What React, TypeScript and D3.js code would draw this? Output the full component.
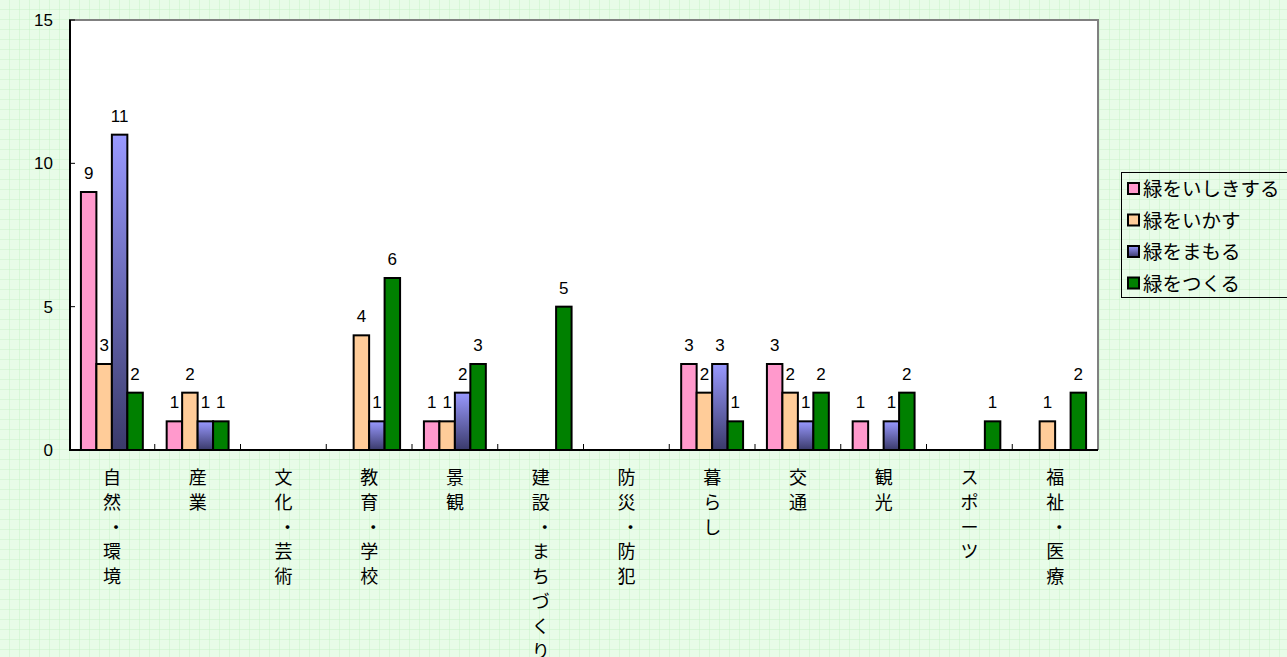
import React from 'react';
import * as d3 from 'd3';

const categories = [
  '自然・環境', '産業', '文化・芸術', '教育・学校', '景観', '建設・まちづくり',
  '防災・防犯', '暮らし', '交通', '観光', 'スポーツ', '福祉・医療'
];
const seriesNames = ['緑をいしきする', '緑をいかす', '緑をまもる', '緑をつくる'];
// 0 = no bar drawn
const ishiki = [9, 1, 0, 0, 1, 0, 0, 3, 3, 1, 0, 0];
const ikasu = [3, 2, 0, 4, 1, 0, 0, 2, 2, 0, 0, 1];
const mamoru = [11, 1, 0, 1, 2, 0, 0, 3, 1, 1, 0, 0];
const tsukuru = [2, 1, 0, 6, 3, 5, 0, 1, 2, 2, 1, 2];
const yTicks = [0, 5, 10, 15];

const seriesValues = [ishiki, ikasu, mamoru, tsukuru];
const fills = ['#ff99cc', '#ffcc99', 'url(#blueGrad)', '#008000'];

const W = 1287;
const H = 657;
const margin = { left: 69, right: 189, top: 20, bottom: 207 };
const FONT = '"Noto Sans CJK JP", "Noto Sans", sans-serif';
const NUM_FONT = '"Liberation Sans", Arial, sans-serif';

export default function App() {
  const x0 = d3.scaleBand().domain(categories).range([margin.left, W - margin.right]);
  const x1 = d3.scaleBand().domain(seriesNames).range([0, x0.bandwidth()]).paddingOuter(0.77);
  const y = d3.scaleLinear().domain([0, 15]).range([H - margin.bottom, margin.top]);
  const bottom = y(0);
  const right = W - margin.right;

  return (
    <svg width={W} height={H} style={{ position: 'absolute', left: 0, top: 0 }} fontFamily={FONT}>
      <defs>
        <pattern id="grid" width={10} height={10} patternUnits="userSpaceOnUse">
          <rect width={10} height={10} fill="#e8fce8" />
          <path d="M10 0 V10 M0 10 H10" stroke="#c8f2c8" strokeWidth={1} fill="none" />
        </pattern>
        <linearGradient id="blueGrad" x1="0" y1="0" x2="0" y2="1">
          <stop offset="0" stopColor="#9999ff" />
          <stop offset="1" stopColor="#3a3a6a" />
        </linearGradient>
      </defs>
      <rect width={W} height={H} fill="url(#grid)" />

      {/* plot area */}
      <rect x={margin.left} y={margin.top} width={right - margin.left} height={bottom - margin.top} fill="#fff" />
      <path d={`M${margin.left},${margin.top} H${right} V${bottom}`} stroke="#808080" strokeWidth={2} fill="none" />

      {/* bars */}
      {seriesValues.map((vals, si) => (
        <g key={si}>
          {categories.map((c, ci) => {
            const v = vals[ci];
            if (!v) return null;
            const bx = x0(c)! + x1(seriesNames[si])!;
            return (
              <g key={c}>
                <rect x={bx} y={y(v)} width={x1.bandwidth()} height={bottom - y(v)}
                  fill={fills[si]} stroke="#000" strokeWidth={2} />
                <text x={bx + x1.bandwidth() / 2} y={y(v) - 13} textAnchor="middle" fontSize={17}
                  fontFamily={NUM_FONT} fill="#000">{v}</text>
              </g>
            );
          })}
        </g>
      ))}

      {/* axes */}
      <line x1={margin.left + 1} x2={margin.left + 1} y1={margin.top} y2={bottom} stroke="#000" strokeWidth={2} />
      <line x1={margin.left} x2={right} y1={bottom} y2={bottom} stroke="#000" strokeWidth={2} />
      {yTicks.map(t => (
        <g key={t}>
          <line x1={margin.left} x2={margin.left + 6} y1={y(t)} y2={y(t)} stroke="#000" strokeWidth={1} />
          <text x={53} y={y(t) + 6} textAnchor="end" fontSize={17} fontFamily={NUM_FONT} fill="#000">{t}</text>
        </g>
      ))}
      {categories.slice(1).map(c => (
        <line key={c} x1={x0(c)!} x2={x0(c)!} y1={bottom} y2={bottom - 6} stroke="#000" strokeWidth={1} />
      ))}

      {/* vertical category labels */}
      {categories.map(c => (
        <text key={c} fontSize={18} fill="#000" textAnchor="middle">
          {Array.from(c).map((ch, i) => (
            <tspan key={i} x={x0(c)! + x0.bandwidth() / 2 + (ch === '・' ? 4 : 0)} y={484 + i * 24.8}>{ch}</tspan>
          ))}
        </text>
      ))}

      {/* legend */}
      <rect x={1121.5} y={172.5} width={180} height={125} fill="none" stroke="#000" strokeWidth={1} />
      {seriesNames.map((s, i) => (
        <g key={s} transform={`translate(1128, ${183 + i * 31.5})`}>
          <rect x={0} y={0} width={11} height={11} fill={fills[i]} stroke="#000" strokeWidth={2} />
          <text x={15} y={13} fontSize={19.5} fill="#000">{s}</text>
        </g>
      ))}
    </svg>
  );
}
